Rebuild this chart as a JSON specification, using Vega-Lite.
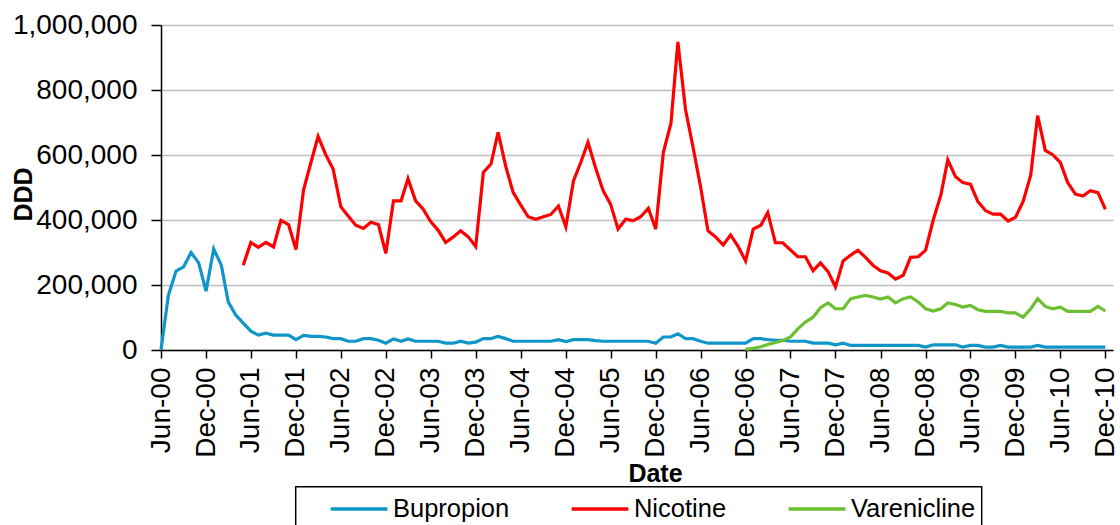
{
  "$schema": "https://vega.github.io/schema/vega-lite/v6.json",
  "width": 952,
  "height": 325,
  "autosize": {"type": "none"},
  "padding": {"left": 161, "top": 25, "right": 7, "bottom": 175},
  "background": "white",
  "config": {"view": {"stroke": null}, "font": "Liberation Sans"},
  "data": {"values": [
    {"month": "2000-06-01", "Bupropion": 0},
    {"month": "2000-07-01", "Bupropion": 168000},
    {"month": "2000-08-01", "Bupropion": 243000},
    {"month": "2000-09-01", "Bupropion": 256000},
    {"month": "2000-10-01", "Bupropion": 300000},
    {"month": "2000-11-01", "Bupropion": 268000},
    {"month": "2000-12-01", "Bupropion": 181000},
    {"month": "2001-01-01", "Bupropion": 311000},
    {"month": "2001-02-01", "Bupropion": 261000},
    {"month": "2001-03-01", "Bupropion": 148000},
    {"month": "2001-04-01", "Bupropion": 107000},
    {"month": "2001-05-01", "Bupropion": 83000, "Nicotine": 261000},
    {"month": "2001-06-01", "Bupropion": 58000, "Nicotine": 331000},
    {"month": "2001-07-01", "Bupropion": 46000, "Nicotine": 316000},
    {"month": "2001-08-01", "Bupropion": 52000, "Nicotine": 331000},
    {"month": "2001-09-01", "Bupropion": 46000, "Nicotine": 317000},
    {"month": "2001-10-01", "Bupropion": 46000, "Nicotine": 399000},
    {"month": "2001-11-01", "Bupropion": 46000, "Nicotine": 386000},
    {"month": "2001-12-01", "Bupropion": 32000, "Nicotine": 309000},
    {"month": "2002-01-01", "Bupropion": 45000, "Nicotine": 493000},
    {"month": "2002-02-01", "Bupropion": 42000, "Nicotine": 580000},
    {"month": "2002-03-01", "Bupropion": 42000, "Nicotine": 657000},
    {"month": "2002-04-01", "Bupropion": 40000, "Nicotine": 601000},
    {"month": "2002-05-01", "Bupropion": 35000, "Nicotine": 557000},
    {"month": "2002-06-01", "Bupropion": 35000, "Nicotine": 441000},
    {"month": "2002-07-01", "Bupropion": 27000, "Nicotine": 412000},
    {"month": "2002-08-01", "Bupropion": 27000, "Nicotine": 384000},
    {"month": "2002-09-01", "Bupropion": 35000, "Nicotine": 374000},
    {"month": "2002-10-01", "Bupropion": 35000, "Nicotine": 393000},
    {"month": "2002-11-01", "Bupropion": 30000, "Nicotine": 386000},
    {"month": "2002-12-01", "Bupropion": 21000, "Nicotine": 297000},
    {"month": "2003-01-01", "Bupropion": 34000, "Nicotine": 459000},
    {"month": "2003-02-01", "Bupropion": 27000, "Nicotine": 459000},
    {"month": "2003-03-01", "Bupropion": 34000, "Nicotine": 527000},
    {"month": "2003-04-01", "Bupropion": 27000, "Nicotine": 459000},
    {"month": "2003-05-01", "Bupropion": 27000, "Nicotine": 434000},
    {"month": "2003-06-01", "Bupropion": 27000, "Nicotine": 395000},
    {"month": "2003-07-01", "Bupropion": 27000, "Nicotine": 369000},
    {"month": "2003-08-01", "Bupropion": 21000, "Nicotine": 331000},
    {"month": "2003-09-01", "Bupropion": 21000, "Nicotine": 348000},
    {"month": "2003-10-01", "Bupropion": 27000, "Nicotine": 367000},
    {"month": "2003-11-01", "Bupropion": 21000, "Nicotine": 348000},
    {"month": "2003-12-01", "Bupropion": 24000, "Nicotine": 318000},
    {"month": "2004-01-01", "Bupropion": 35000, "Nicotine": 546000},
    {"month": "2004-02-01", "Bupropion": 35000, "Nicotine": 572000},
    {"month": "2004-03-01", "Bupropion": 42000, "Nicotine": 670000},
    {"month": "2004-04-01", "Bupropion": 35000, "Nicotine": 565000},
    {"month": "2004-05-01", "Bupropion": 27000, "Nicotine": 485000},
    {"month": "2004-06-01", "Bupropion": 27000, "Nicotine": 446000},
    {"month": "2004-07-01", "Bupropion": 27000, "Nicotine": 410000},
    {"month": "2004-08-01", "Bupropion": 27000, "Nicotine": 402000},
    {"month": "2004-09-01", "Bupropion": 27000, "Nicotine": 410000},
    {"month": "2004-10-01", "Bupropion": 27000, "Nicotine": 417000},
    {"month": "2004-11-01", "Bupropion": 32000, "Nicotine": 443000},
    {"month": "2004-12-01", "Bupropion": 26000, "Nicotine": 379000},
    {"month": "2005-01-01", "Bupropion": 32000, "Nicotine": 520000},
    {"month": "2005-02-01", "Bupropion": 32000, "Nicotine": 580000},
    {"month": "2005-03-01", "Bupropion": 32000, "Nicotine": 639000},
    {"month": "2005-04-01", "Bupropion": 29000, "Nicotine": 560000},
    {"month": "2005-05-01", "Bupropion": 27000, "Nicotine": 491000},
    {"month": "2005-06-01", "Bupropion": 27000, "Nicotine": 448000},
    {"month": "2005-07-01", "Bupropion": 27000, "Nicotine": 372000},
    {"month": "2005-08-01", "Bupropion": 27000, "Nicotine": 402000},
    {"month": "2005-09-01", "Bupropion": 27000, "Nicotine": 398000},
    {"month": "2005-10-01", "Bupropion": 27000, "Nicotine": 410000},
    {"month": "2005-11-01", "Bupropion": 27000, "Nicotine": 436000},
    {"month": "2005-12-01", "Bupropion": 21000, "Nicotine": 372000},
    {"month": "2006-01-01", "Bupropion": 40000, "Nicotine": 608000},
    {"month": "2006-02-01", "Bupropion": 40000, "Nicotine": 698000},
    {"month": "2006-03-01", "Bupropion": 50000, "Nicotine": 948000},
    {"month": "2006-04-01", "Bupropion": 35000, "Nicotine": 740000},
    {"month": "2006-05-01", "Bupropion": 35000, "Nicotine": 626000},
    {"month": "2006-06-01", "Bupropion": 27000, "Nicotine": 503000},
    {"month": "2006-07-01", "Bupropion": 21000, "Nicotine": 367000},
    {"month": "2006-08-01", "Bupropion": 21000, "Nicotine": 348000},
    {"month": "2006-09-01", "Bupropion": 21000, "Nicotine": 323000},
    {"month": "2006-10-01", "Bupropion": 21000, "Nicotine": 354000},
    {"month": "2006-11-01", "Bupropion": 21000, "Nicotine": 318000},
    {"month": "2006-12-01", "Bupropion": 21000, "Nicotine": 274000, "Varenicline": 2000},
    {"month": "2007-01-01", "Bupropion": 35000, "Nicotine": 372000, "Varenicline": 5000},
    {"month": "2007-02-01", "Bupropion": 35000, "Nicotine": 384000, "Varenicline": 10000},
    {"month": "2007-03-01", "Bupropion": 32000, "Nicotine": 423000, "Varenicline": 17000},
    {"month": "2007-04-01", "Bupropion": 30000, "Nicotine": 330000, "Varenicline": 23000},
    {"month": "2007-05-01", "Bupropion": 30000, "Nicotine": 330000, "Varenicline": 29000},
    {"month": "2007-06-01", "Bupropion": 27000, "Nicotine": 308000, "Varenicline": 40000},
    {"month": "2007-07-01", "Bupropion": 27000, "Nicotine": 287000, "Varenicline": 65000},
    {"month": "2007-08-01", "Bupropion": 27000, "Nicotine": 287000, "Varenicline": 86000},
    {"month": "2007-09-01", "Bupropion": 21000, "Nicotine": 244000, "Varenicline": 101000},
    {"month": "2007-10-01", "Bupropion": 21000, "Nicotine": 268000, "Varenicline": 130000},
    {"month": "2007-11-01", "Bupropion": 21000, "Nicotine": 241000, "Varenicline": 145000},
    {"month": "2007-12-01", "Bupropion": 16000, "Nicotine": 194000, "Varenicline": 127000},
    {"month": "2008-01-01", "Bupropion": 21000, "Nicotine": 274000, "Varenicline": 127000},
    {"month": "2008-02-01", "Bupropion": 14000, "Nicotine": 292000, "Varenicline": 158000},
    {"month": "2008-03-01", "Bupropion": 14000, "Nicotine": 307000, "Varenicline": 163000},
    {"month": "2008-04-01", "Bupropion": 14000, "Nicotine": 285000, "Varenicline": 168000},
    {"month": "2008-05-01", "Bupropion": 14000, "Nicotine": 261000, "Varenicline": 163000},
    {"month": "2008-06-01", "Bupropion": 14000, "Nicotine": 244000, "Varenicline": 157000},
    {"month": "2008-07-01", "Bupropion": 14000, "Nicotine": 237000, "Varenicline": 163000},
    {"month": "2008-08-01", "Bupropion": 14000, "Nicotine": 218000, "Varenicline": 145000},
    {"month": "2008-09-01", "Bupropion": 14000, "Nicotine": 230000, "Varenicline": 158000},
    {"month": "2008-10-01", "Bupropion": 14000, "Nicotine": 285000, "Varenicline": 163000},
    {"month": "2008-11-01", "Bupropion": 14000, "Nicotine": 287000, "Varenicline": 148000},
    {"month": "2008-12-01", "Bupropion": 9000, "Nicotine": 307000, "Varenicline": 127000},
    {"month": "2009-01-01", "Bupropion": 16000, "Nicotine": 400000, "Varenicline": 120000},
    {"month": "2009-02-01", "Bupropion": 16000, "Nicotine": 477000, "Varenicline": 127000},
    {"month": "2009-03-01", "Bupropion": 16000, "Nicotine": 585000, "Varenicline": 145000},
    {"month": "2009-04-01", "Bupropion": 16000, "Nicotine": 534000, "Varenicline": 140000},
    {"month": "2009-05-01", "Bupropion": 9000, "Nicotine": 515000, "Varenicline": 132000},
    {"month": "2009-06-01", "Bupropion": 14000, "Nicotine": 510000, "Varenicline": 137000},
    {"month": "2009-07-01", "Bupropion": 14000, "Nicotine": 457000, "Varenicline": 124000},
    {"month": "2009-08-01", "Bupropion": 9000, "Nicotine": 429000, "Varenicline": 119000},
    {"month": "2009-09-01", "Bupropion": 9000, "Nicotine": 418000, "Varenicline": 119000},
    {"month": "2009-10-01", "Bupropion": 14000, "Nicotine": 418000, "Varenicline": 119000},
    {"month": "2009-11-01", "Bupropion": 9000, "Nicotine": 397000, "Varenicline": 114000},
    {"month": "2009-12-01", "Bupropion": 9000, "Nicotine": 408000, "Varenicline": 114000},
    {"month": "2010-01-01", "Bupropion": 9000, "Nicotine": 457000, "Varenicline": 101000},
    {"month": "2010-02-01", "Bupropion": 9000, "Nicotine": 539000, "Varenicline": 127000},
    {"month": "2010-03-01", "Bupropion": 14000, "Nicotine": 721000, "Varenicline": 158000},
    {"month": "2010-04-01", "Bupropion": 9000, "Nicotine": 614000, "Varenicline": 134000},
    {"month": "2010-05-01", "Bupropion": 9000, "Nicotine": 601000, "Varenicline": 127000},
    {"month": "2010-06-01", "Bupropion": 9000, "Nicotine": 577000, "Varenicline": 132000},
    {"month": "2010-07-01", "Bupropion": 9000, "Nicotine": 515000, "Varenicline": 119000},
    {"month": "2010-08-01", "Bupropion": 9000, "Nicotine": 480000, "Varenicline": 119000},
    {"month": "2010-09-01", "Bupropion": 9000, "Nicotine": 474000, "Varenicline": 119000},
    {"month": "2010-10-01", "Bupropion": 9000, "Nicotine": 490000, "Varenicline": 119000},
    {"month": "2010-11-01", "Bupropion": 9000, "Nicotine": 484000, "Varenicline": 134000},
    {"month": "2010-12-01", "Bupropion": 9000, "Nicotine": 433000, "Varenicline": 120000}
  ]},
  "transform": [
    {"fold": ["Bupropion", "Nicotine", "Varenicline"], "as": ["drug", "ddd"]},
    {"filter": "isValid(datum.ddd)"}
  ],
  "mark": {"type": "line", "strokeWidth": 3.2},
  "encoding": {
    "x": {
      "field": "month",
      "type": "temporal",
      "scale": {"type": "utc", "domain": [{"year": 2000, "month": 6, "date": 1, "utc": true}, {"year": 2011, "month": 1, "date": 1, "utc": true}]},
      "axis": {
        "values": [
          {"year": 2000, "month": 6, "date": 1, "utc": true}, {"year": 2000, "month": 12, "date": 1, "utc": true},
          {"year": 2001, "month": 6, "date": 1, "utc": true}, {"year": 2001, "month": 12, "date": 1, "utc": true},
          {"year": 2002, "month": 6, "date": 1, "utc": true}, {"year": 2002, "month": 12, "date": 1, "utc": true},
          {"year": 2003, "month": 6, "date": 1, "utc": true}, {"year": 2003, "month": 12, "date": 1, "utc": true},
          {"year": 2004, "month": 6, "date": 1, "utc": true}, {"year": 2004, "month": 12, "date": 1, "utc": true},
          {"year": 2005, "month": 6, "date": 1, "utc": true}, {"year": 2005, "month": 12, "date": 1, "utc": true},
          {"year": 2006, "month": 6, "date": 1, "utc": true}, {"year": 2006, "month": 12, "date": 1, "utc": true},
          {"year": 2007, "month": 6, "date": 1, "utc": true}, {"year": 2007, "month": 12, "date": 1, "utc": true},
          {"year": 2008, "month": 6, "date": 1, "utc": true}, {"year": 2008, "month": 12, "date": 1, "utc": true},
          {"year": 2009, "month": 6, "date": 1, "utc": true}, {"year": 2009, "month": 12, "date": 1, "utc": true},
          {"year": 2010, "month": 6, "date": 1, "utc": true}, {"year": 2010, "month": 12, "date": 1, "utc": true}
        ],
        "labelExpr": "utcFormat(datum.value, '%b-%y')",
        "labelAngle": 270,
        "labelAlign": "right",
        "labelBaseline": "middle",
        "labelFontSize": 28,
        "labelColor": "black",
        "labelPadding": 9,
        "labelOverlap": false,
        "labelFlush": false,
        "labelBound": false,
        "grid": false,
        "domainColor": "black",
        "domainWidth": 1.5,
        "tickColor": "black",
        "tickWidth": 1.5,
        "tickSize": 8,
        "title": "Date",
        "titleFontSize": 25,
        "titleFontWeight": "bold",
        "titleColor": "black",
        "titleX": 494,
        "titleY": 131,
        "titleBaseline": "alphabetic"
      }
    },
    "y": {
      "field": "ddd",
      "type": "quantitative",
      "scale": {"domain": [0, 1000000], "nice": false},
      "axis": {
        "values": [0, 200000, 400000, 600000, 800000, 1000000],
        "format": ",d",
        "labelFontSize": 28,
        "labelColor": "black",
        "labelPadding": 14,
        "tickSize": 10,
        "tickColor": "black",
        "tickWidth": 1.5,
        "domainColor": "black",
        "domainWidth": 1.5,
        "grid": true,
        "gridColor": "#BFBFBF",
        "gridWidth": 1.5,
        "title": "DDD",
        "titleFontSize": 25,
        "titleFontWeight": "bold",
        "titleColor": "black",
        "titleAngle": 270,
        "titleX": -130,
        "titleY": 169,
        "titleBaseline": "alphabetic"
      }
    },
    "color": {
      "field": "drug",
      "type": "nominal",
      "scale": {"domain": ["Bupropion", "Nicotine", "Varenicline"], "range": ["#0F96C8", "#FF0000", "#6CBF30"]},
      "legend": {
        "orient": "none",
        "legendX": 134.7,
        "legendY": 461.7,
        "direction": "horizontal",
        "title": null,
        "symbolType": "M-2,0H2",
        "symbolSize": 804,
        "symbolStrokeWidth": 3.5,
        "symbolOffset": 41.35,
        "labelOffset": 17.9,
        "labelFontSize": 25.5,
        "labelColor": "black",
        "labelLimit": 400,
        "labelExpr": "datum.label == 'Varenicline' ? 'Varenicline\u2003\u2009' : datum.label",
        "columnPadding": 33,
        "padding": 6,
        "strokeColor": "black",
        "encode": {"legend": {"update": {"strokeWidth": {"value": 1.5}}}}
      }
    }
  }
}
